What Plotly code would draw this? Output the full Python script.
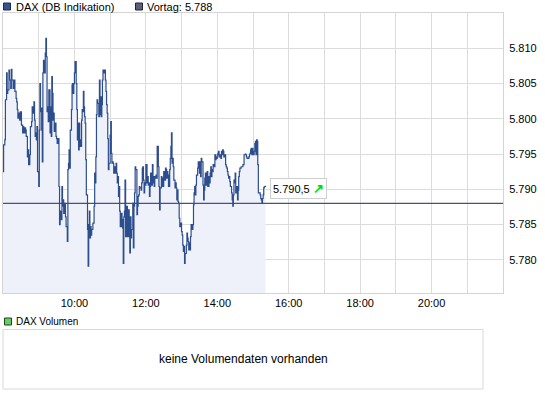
import plotly.graph_objects as go

# ---------------- data ----------------
SESSION_DATE = "2010-06-01"
session_start = "08:00"
session_end = "22:00"

series_name = "DAX (DB Indikation)"
volume_name = "DAX Volumen"
volume_message = "keine Volumendaten vorhanden"
prev_close = 5788

times = [
    "08:00", "08:01", "08:03", "08:04", "08:06", "08:07", "08:08", "08:10", "08:11", "08:13",
    "08:14", "08:15", "08:17", "08:18", "08:20", "08:22", "08:23", "08:24", "08:25", "08:27",
    "08:28", "08:29", "08:31", "08:33", "08:34", "08:35", "08:37", "08:38", "08:39", "08:41",
    "08:42", "08:43", "08:45", "08:46", "08:48", "08:49", "08:51", "08:52", "08:53", "08:54",
    "08:55", "08:56", "08:57", "08:58", "09:00", "09:01", "09:02", "09:03", "09:04", "09:05",
    "09:06", "09:07", "09:08", "09:10", "09:11", "09:12", "09:13", "09:14", "09:15", "09:16",
    "09:17", "09:19", "09:20", "09:21", "09:22", "09:23", "09:24", "09:25", "09:26", "09:27",
    "09:29", "09:30", "09:31", "09:32", "09:33", "09:34", "09:35", "09:36", "09:38", "09:39",
    "09:40", "09:41", "09:42", "09:43", "09:44", "09:45", "09:46", "09:48", "09:49", "09:50",
    "09:51", "09:52",
    "09:53", "09:55", "09:56", "09:57", "09:58", "09:59", "10:00", "10:01", "10:03", "10:04",
    "10:05", "10:06", "10:07", "10:08", "10:09", "10:10", "10:12", "10:13", "10:14", "10:15",
    "10:16", "10:17", "10:18", "10:19", "10:20", "10:22", "10:23", "10:24", "10:25", "10:26",
    "10:27", "10:28", "10:29", "10:31", "10:32", "10:33", "10:34", "10:35", "10:36", "10:37",
    "10:38", "10:39", "10:41", "10:42", "10:43", "10:44", "10:45", "10:46", "10:47", "10:48",
    "10:50", "10:51", "10:52", "10:53", "10:54", "10:55", "10:56", "10:57", "10:58", "11:00",
    "11:01", "11:02", "11:03", "11:04", "11:05", "11:06", "11:07", "11:09", "11:10", "11:11",
    "11:12", "11:13", "11:14", "11:15", "11:16", "11:17", "11:19", "11:20", "11:21", "11:22",
    "11:23", "11:24", "11:25", "11:26", "11:28", "11:29", "11:30", "11:31", "11:32", "11:33",
    "11:34", "11:35", "11:36", "11:38", "11:39", "11:40", "11:41", "11:42", "11:43",
    "11:45", "11:46", "11:47", "11:48", "11:49", "11:50", "11:52", "11:53", "11:54", "11:55",
    "11:56", "11:57", "11:58", "11:59", "12:00", "12:02", "12:03", "12:04", "12:05", "12:06",
    "12:07", "12:08", "12:09", "12:11", "12:12", "12:13", "12:14", "12:15", "12:16", "12:17",
    "12:18", "12:19", "12:21", "12:22", "12:23", "12:24", "12:25", "12:26", "12:27", "12:28",
    "12:30", "12:31", "12:32", "12:33", "12:34", "12:35", "12:36", "12:37", "12:38", "12:40",
    "12:41", "12:42", "12:43", "12:44", "12:45", "12:46", "12:47", "12:49", "12:50", "12:51",
    "12:52", "12:53", "12:54", "12:55", "12:56", "12:57", "12:59", "13:00", "13:01", "13:02",
    "13:03", "13:04", "13:05", "13:06", "13:08", "13:09", "13:10", "13:11", "13:12", "13:13",
    "13:14", "13:15", "13:16", "13:18", "13:19", "13:20", "13:21", "13:22", "13:23", "13:24",
    "13:25", "13:27", "13:28", "13:29", "13:30", "13:31", "13:32", "13:33", "13:34",
    "13:36", "13:37", "13:38", "13:39", "13:40", "13:41", "13:42", "13:43", "13:44", "13:46",
    "13:47", "13:48", "13:49", "13:50", "13:51", "13:52", "13:53", "13:55", "13:56", "13:57",
    "13:58", "13:59", "14:00", "14:01", "14:02", "14:03", "14:05", "14:06", "14:07", "14:08",
    "14:09", "14:10", "14:11", "14:12", "14:14", "14:15", "14:16", "14:17", "14:18", "14:19",
    "14:20", "14:21", "14:22", "14:24", "14:25", "14:26", "14:27", "14:28", "14:29", "14:30",
    "14:31", "14:33", "14:34", "14:35", "14:36", "14:37", "14:38", "14:39", "14:40", "14:41",
    "14:43", "14:44", "14:45", "14:46", "14:47", "14:48", "14:49", "14:50", "14:52", "14:53",
    "14:54", "14:55", "14:56", "14:57", "14:58", "14:59", "15:00", "15:02", "15:03", "15:04",
    "15:05", "15:06", "15:07", "15:08", "15:09", "15:11", "15:12", "15:13", "15:14", "15:15",
    "15:16", "15:17", "15:18", "15:19", "15:21",
]

prices = [
    5792.5, 5796.3, 5797.0, 5802.7, 5806.5, 5803.6, 5804.1, 5806.9, 5805.5, 5804.3,
    5807.0, 5805.5, 5804.3, 5805.5, 5803.9, 5802.9, 5802.4, 5801.3, 5800.1, 5800.8,
    5799.8, 5801.0, 5799.1, 5798.0, 5798.9, 5798.0, 5798.7, 5798.4, 5797.5, 5794.6,
    5795.6, 5793.5, 5794.9, 5798.9, 5799.6, 5801.7, 5800.8, 5802.4, 5799.8, 5797.5,
    5798.0, 5797.0, 5798.9, 5792.5, 5790.4, 5798.4, 5805.0, 5801.0, 5801.5, 5798.4,
    5793.9, 5806.5, 5808.3, 5806.5, 5809.3, 5811.4, 5808.8, 5801.0, 5801.7, 5799.6,
    5804.1, 5798.0, 5801.7, 5797.5, 5806.0, 5803.6, 5799.8, 5800.8, 5798.2, 5799.4,
    5797.5, 5797.2, 5796.5, 5797.0, 5797.2, 5790.4, 5785.0, 5786.9, 5785.7, 5790.4,
    5787.6, 5788.5, 5786.6, 5786.9, 5788.0, 5786.1, 5784.7, 5782.6, 5792.8, 5793.7,
    5795.6, 5793.0,
    5798.4, 5801.3, 5804.8, 5805.0, 5803.6, 5805.0, 5806.5, 5808.1, 5805.0, 5801.3,
    5797.0, 5799.4, 5795.6, 5799.4, 5797.0, 5796.1, 5799.8, 5801.3, 5801.0, 5803.9,
    5801.7, 5800.3, 5799.4, 5794.2, 5789.2, 5784.3, 5779.1, 5785.0, 5786.9, 5783.1,
    5784.7, 5783.5, 5784.3, 5785.2, 5785.2, 5787.6, 5792.3, 5790.9, 5794.6, 5800.6,
    5802.7, 5802.2, 5800.3, 5805.5, 5800.6, 5803.1, 5800.3, 5802.0, 5805.5, 5806.9,
    5806.5, 5806.9, 5805.5, 5803.9, 5802.0, 5800.8, 5797.2, 5792.8, 5793.7, 5797.7,
    5799.6, 5795.1, 5793.7, 5793.9, 5793.7, 5792.3, 5793.2, 5792.3, 5793.7, 5792.3,
    5790.9, 5791.8, 5789.0, 5790.4, 5786.9, 5784.7, 5786.6, 5785.7, 5784.5, 5779.5,
    5786.1, 5786.9, 5791.3, 5783.3, 5787.6, 5785.2, 5783.3, 5787.1, 5784.3, 5781.0,
    5786.1, 5783.1, 5784.3, 5788.0, 5781.7, 5787.6, 5789.5, 5793.2, 5792.8,
    5786.4, 5787.6, 5789.0, 5789.2, 5790.4, 5790.2, 5789.9, 5790.9, 5793.0, 5793.2,
    5791.3, 5789.5, 5790.9, 5790.6, 5793.5, 5790.9, 5791.8, 5790.6, 5790.9, 5789.0,
    5790.4, 5792.3, 5790.6, 5793.5, 5790.9, 5791.8, 5790.4, 5791.8, 5791.6, 5792.0,
    5791.6, 5796.1, 5793.2, 5790.4, 5787.1, 5790.2, 5790.2, 5791.8, 5791.6, 5790.4,
    5792.5, 5791.8, 5791.3, 5793.0, 5792.8, 5791.6, 5792.5, 5792.0, 5790.4, 5792.8,
    5794.4, 5796.1, 5798.0, 5793.7, 5794.4, 5793.2, 5791.3, 5790.2, 5790.9, 5790.2,
    5788.5, 5789.9, 5788.3, 5788.0, 5785.9, 5784.7, 5785.2, 5784.0, 5783.5, 5782.1,
    5781.2, 5781.9, 5779.5, 5780.9, 5782.1, 5783.8, 5783.1, 5782.6, 5781.4, 5782.4,
    5781.4, 5783.3, 5785.0, 5784.3, 5785.0, 5787.8, 5789.5, 5790.4, 5789.2, 5790.6,
    5792.0, 5793.0, 5793.9, 5793.7, 5792.3, 5793.9, 5791.8, 5794.4, 5793.9,
    5790.6, 5788.5, 5789.9, 5791.6, 5792.3, 5790.6, 5791.8, 5792.5, 5790.4, 5791.8,
    5790.9, 5792.3, 5793.2, 5791.8, 5792.8, 5792.5, 5793.5, 5793.2, 5794.9, 5794.2,
    5794.6, 5794.4, 5794.9, 5795.1, 5795.4, 5794.6, 5794.9, 5794.4, 5795.4, 5794.9,
    5795.6, 5795.4, 5794.6, 5794.9, 5793.5, 5793.2, 5793.0, 5792.5, 5792.0, 5791.6,
    5791.8, 5791.1, 5790.4, 5789.5, 5788.5, 5787.6, 5789.2, 5791.3, 5790.9, 5792.3,
    5789.5, 5790.4, 5788.5, 5789.9, 5791.8, 5792.5, 5793.0, 5793.0, 5793.2, 5793.2,
    5793.5, 5793.5, 5794.9, 5794.9, 5795.0, 5794.9, 5794.6, 5794.4, 5794.4, 5794.6,
    5794.9, 5795.1, 5795.6, 5795.8, 5794.9, 5795.8, 5794.9, 5795.4, 5796.5, 5796.8,
    5794.9, 5797.0, 5796.8, 5793.5, 5789.5, 5789.5, 5789.2, 5788.7, 5788.5, 5788.0,
    5788.7, 5789.2, 5790.2, 5790.4, 5790.5,
]

y_tick_values = [5780, 5785, 5790, 5795, 5800, 5805, 5810]
x_tick_labels = ["10:00", "12:00", "14:00", "16:00", "18:00", "20:00"]

# ---------------- helpers ----------------
def de(v, nd):
    s = f"{v:,.{nd}f}"
    return s.replace(",", "X").replace(".", ",").replace("X", ".")

def ts(t):
    return f"{SESSION_DATE} {t}"

x = [ts(t) for t in times]
x_start, x_end = ts(session_start), ts(session_end)

LINE = "#2d4e8e"
FILL = "#eef1fa"
PREV = "#4a5274"
GRID = "#dcdcdc"
FONT = "Liberation Sans, Arial, sans-serif"

# plot area in pixels (for layout helpers)
L, R, T, B = 3, 42, 13, 105
W, H = 545 - L - R, 398 - T - B

def px(xp):
    return (xp - L) / W

def py(yp):
    return (T + H - yp) / H

fig = go.Figure()
fig.add_trace(go.Scatter(x=x, y=prices, mode="lines", line=dict(width=0, shape="hv"),
                         fill="tozeroy", fillcolor=FILL, hoverinfo="skip"))
fig.add_trace(go.Scatter(x=[x_start, x_end], y=[prev_close, prev_close], mode="lines",
                         line=dict(color=PREV, width=1.3), hoverinfo="skip"))
fig.add_trace(go.Scatter(x=x, y=prices, mode="lines", name=series_name,
                         line=dict(color=LINE, width=1.2, shape="hv")))

shapes = [
    dict(type="rect", xref="paper", yref="paper", x0=px(3.5), x1=px(10.5), y0=py(10), y1=py(3),
         fillcolor="#34558f", line=dict(color="#1e2a44", width=1)),
    dict(type="rect", xref="paper", yref="paper", x0=px(135.5), x1=px(142.5), y0=py(10), y1=py(3),
         fillcolor="#5c6079", line=dict(color="#22242e", width=1)),
    dict(type="rect", xref="paper", yref="paper", x0=px(4.5), x1=px(11.5), y0=py(325), y1=py(318),
         fillcolor="#66cc66", line=dict(color="#234423", width=1)),
    dict(type="rect", xref="paper", yref="paper", x0=px(3), x1=px(483), y0=py(389), y1=py(329.5),
         fillcolor="white", line=dict(color="#d9d9d9", width=1)),
]

annotations = [
    dict(xref="paper", yref="paper", x=px(14), y=py(7), xanchor="left", yanchor="middle",
         text=series_name, showarrow=False, font=dict(size=11, color="black")),
    dict(xref="paper", yref="paper", x=px(145), y=py(7), xanchor="left", yanchor="middle",
         text=f"Vortag: {de(prev_close, 0)}", showarrow=False, font=dict(size=11, color="black")),
    dict(xref="paper", yref="paper", x=px(14), y=py(321.5), xanchor="left", yanchor="middle",
         text=volume_name, showarrow=False, font=dict(size=10, color="black")),
    dict(xref="paper", yref="paper", x=px(243), y=py(359), xanchor="center", yanchor="middle",
         text=volume_message, showarrow=False, font=dict(size=12, color="black")),
    dict(x=x[-1], y=prices[-1], xanchor="left", yanchor="middle", xshift=4, yshift=-3,
         text=f'{de(prices[-1], 1)} <b><span style="color:#00dd00;font-size:13px">↗</span></b>',
         showarrow=False, bgcolor="white", bordercolor="#cfcfcf", borderwidth=1, borderpad=2,
         font=dict(size=11, color="black")),
]

fig.update_layout(
    width=545, height=398,
    margin=dict(l=L, r=R, t=T, b=B, autoexpand=False),
    paper_bgcolor="white", plot_bgcolor="white",
    showlegend=False, separators=",.",
    font=dict(family=FONT, size=11, color="black"),
    shapes=shapes, annotations=annotations,
    xaxis=dict(type="date", range=[x_start, x_end],
               tickvals=[ts(t) for t in x_tick_labels], ticktext=x_tick_labels,
               showgrid=True, gridcolor=GRID, gridwidth=1,
               minor=dict(dtick=3600000, tick0=x_start, showgrid=True, gridcolor=GRID, gridwidth=1),
               showline=True, linecolor="#d4d4d4", linewidth=1, mirror=True,
               ticks="", zeroline=False, fixedrange=True, automargin=False,
               tickfont=dict(size=11, color="black")),
    yaxis=dict(side="right", range=[5775.3, 5815.0], tickvals=y_tick_values,
               tickformat=",.0f", showgrid=True, gridcolor=GRID, gridwidth=1,
               showline=True, linecolor="#d4d4d4", linewidth=1, mirror=True,
               ticks="", zeroline=False, fixedrange=True, ticklabelstandoff=3, automargin=False,
               tickfont=dict(size=11, color="black")),
)

fig.write_html(
    "out.html",
    config=dict(displayModeBar=False, staticPlot=True),
    post_script="document.body.style.margin='0px';document.body.style.padding='0px';"
                "document.documentElement.style.overflow='hidden';",
)
